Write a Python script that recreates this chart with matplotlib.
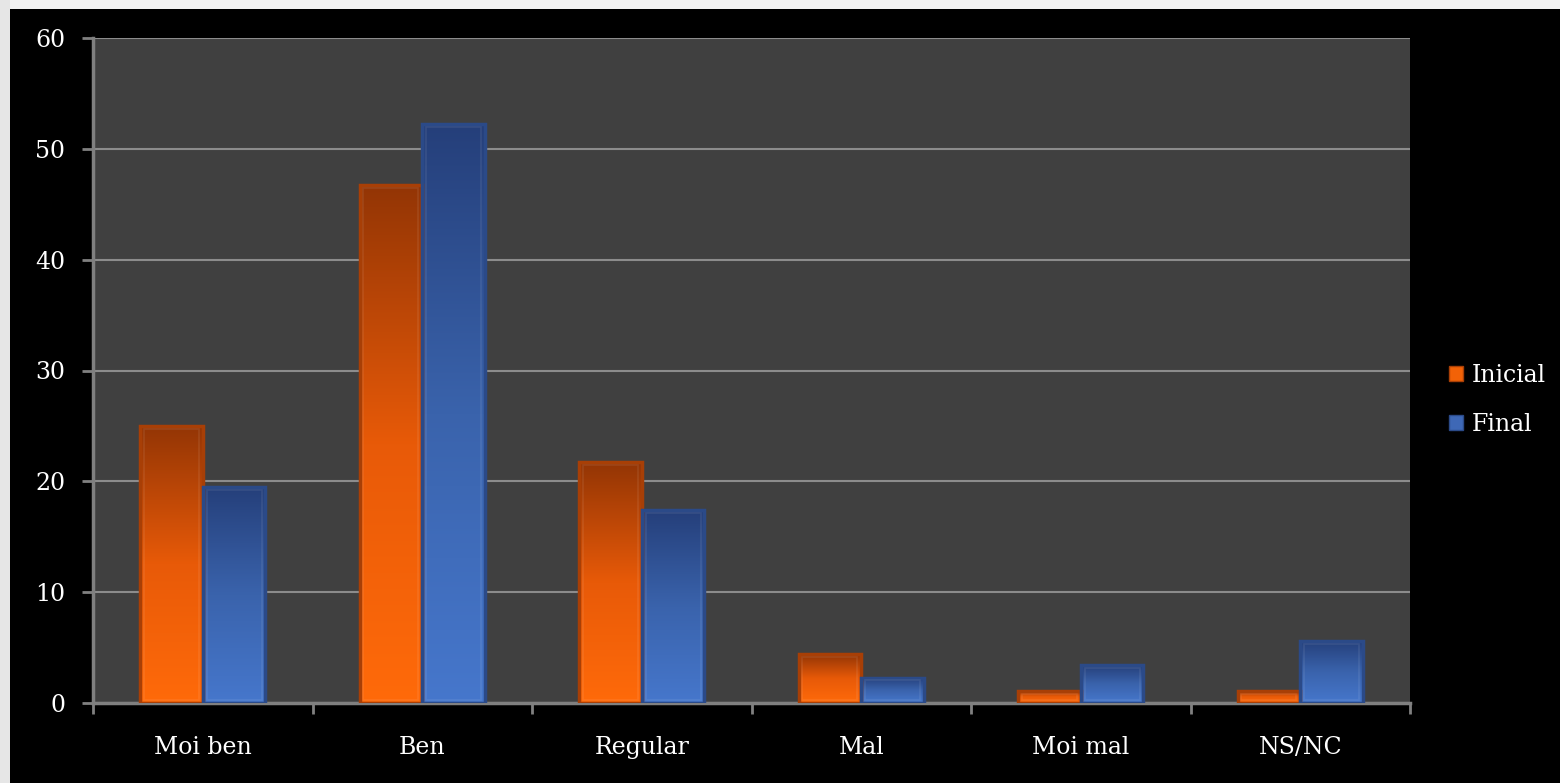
import numpy as np
import matplotlib.pyplot as plt
from matplotlib.patches import Rectangle
from matplotlib.colors import LinearSegmentedColormap

# Data
categories = ["Moi ben", "Ben", "Regular", "Mal", "Moi mal", "NS/NC"]
inicial = [25.0, 46.7, 21.7, 4.4, 1.1, 1.1]
final = [19.5, 52.2, 17.4, 2.3, 3.4, 5.6]
series_names = ["Inicial", "Final"]

plt.rcParams['font.family'] = ['DejaVu Serif']

fig = plt.figure(figsize=[15.6, 7.83], dpi=100)
fig.patch.set_facecolor('black')

# light border strips at the top and left edge (slide background)
fig.patches.append(Rectangle((0, 1 - 9/783), 1, 9/783, transform=fig.transFigure,
                             facecolor='#f2f2f2', edgecolor='none', zorder=0))
fig.patches.append(Rectangle((0, 0), 10/1560, 1, transform=fig.transFigure,
                             facecolor='#e6e6e6', edgecolor='none', zorder=0))

ax = fig.add_axes([93/1560, 1 - 703/783, (1410-93)/1560, (703-38)/783])
ax.set_facecolor('#404040')

orange_cmap = LinearSegmentedColormap.from_list('o', ['#ff6a0a', '#e85a08', '#933505'])
blue_cmap = LinearSegmentedColormap.from_list('b', ['#4677cc', '#3a63ac', '#253f7a'])
edge_cols = ['#a83f06', '#2b4a88']

x = np.arange(len(categories))
w = 0.285
grad = np.linspace(0, 1, 256).reshape(-1, 1)

for vals, off, cmap, ec in [(inicial, -w/2, orange_cmap, edge_cols[0]),
                            (final, w/2, blue_cmap, edge_cols[1])]:
    for xi, v in zip(x, vals):
        left = xi + off - w/2
        ax.imshow(grad, cmap=cmap, origin='lower', aspect='auto',
                  extent=[left, left + w, 0, v], zorder=3, interpolation='bilinear')
        ax.add_patch(Rectangle((left, 0), w, v, facecolor='none', edgecolor=ec,
                               linewidth=2.5, zorder=4))
        # slight bevel highlight
        ax.add_patch(Rectangle((left + w*0.06, 0.25), w*0.88, max(v - 0.5, 0.05),
                               facecolor='none', edgecolor=(1, 1, 1, 0.08),
                               linewidth=1.2, zorder=4))

ax.set_xlim(-0.5, len(categories) - 0.5)
ax.set_ylim(0, 60)
ax.set_yticks(range(0, 61, 10))
ax.set_xticks(x)
ax.set_xticklabels(categories)
ax.set_xticks(np.arange(-0.5, len(categories), 1), minor=True)
ax.tick_params(axis='x', which='major', length=0, pad=24, labelsize=17, colors='white')
ax.tick_params(axis='x', which='minor', length=8, width=2, color='#808080')
ax.tick_params(axis='y', length=8, width=2, color='#808080', labelsize=17,
               labelcolor='white', pad=12)
ax.grid(axis='y', color='#8c8c8c', linewidth=1.5, zorder=1)
ax.set_axisbelow(True)
for s in ['top', 'right']:
    ax.spines[s].set_visible(False)
for s in ['left', 'bottom']:
    ax.spines[s].set_color('#808080')
    ax.spines[s].set_linewidth(2.5)

handles = [Rectangle((0, 0), 1, 1, facecolor='#f26207', edgecolor='#a83f06'),
           Rectangle((0, 0), 1, 1, facecolor='#3e68b6', edgecolor='#2b4a88')]
leg = fig.legend(handles, series_names, loc='center left',
                 bbox_to_anchor=(1428/1560, 1 - 400/783), frameon=False,
                 fontsize=17, labelcolor='white', handlelength=0.6,
                 handleheight=0.6, handletextpad=0.35, labelspacing=1.1)

fig.savefig('out.png', dpi=100, facecolor=fig.get_facecolor())
